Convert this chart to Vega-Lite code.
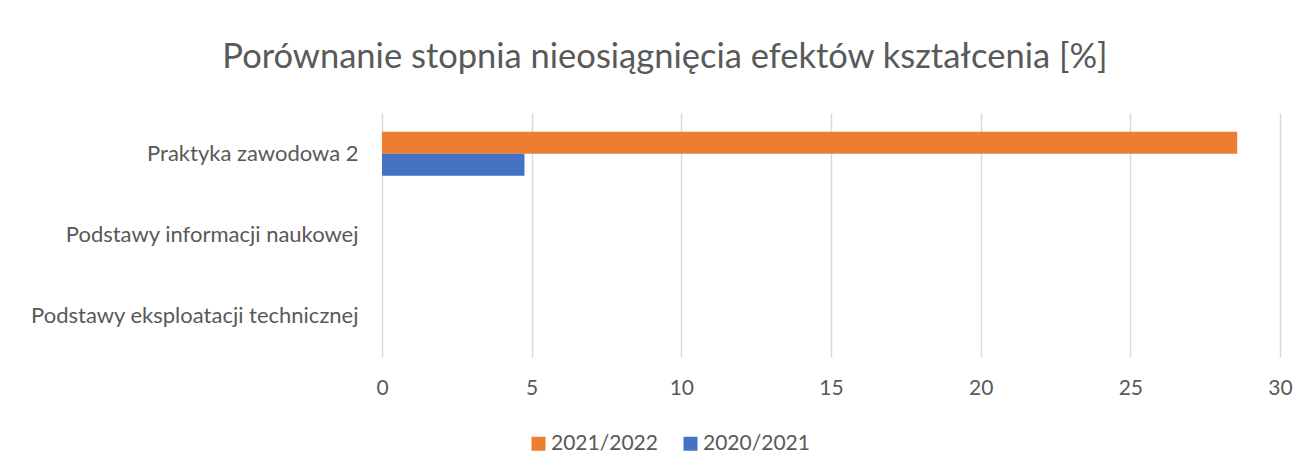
{
  "$schema": "https://vega.github.io/schema/vega-lite/v6.json",
  "width": 898,
  "height": 244,
  "autosize": "none",
  "padding": {"left": 382, "top": 113, "right": 31, "bottom": 116},
  "background": "white",
  "title": {
    "text": "Porównanie stopnia nieosiągnięcia efektów kształcenia [%]",
    "font": "Lato",
    "fontSize": 34.5,
    "fontWeight": "normal",
    "color": "#595959",
    "anchor": "middle",
    "dx": -166,
    "baseline": "alphabetic",
    "offset": 11
  },
  "data": {
    "values": [
      {"przedmiot": "Praktyka zawodowa 2", "rok": "2021/2022", "wartosc": 28.57},
      {"przedmiot": "Praktyka zawodowa 2", "rok": "2020/2021", "wartosc": 4.76},
      {"przedmiot": "Podstawy informacji naukowej", "rok": "2021/2022", "wartosc": 0},
      {"przedmiot": "Podstawy informacji naukowej", "rok": "2020/2021", "wartosc": 0},
      {"przedmiot": "Podstawy eksploatacji technicznej", "rok": "2021/2022", "wartosc": 0},
      {"przedmiot": "Podstawy eksploatacji technicznej", "rok": "2020/2021", "wartosc": 0}
    ]
  },
  "mark": {"type": "bar"},
  "encoding": {
    "y": {
      "field": "przedmiot",
      "type": "nominal",
      "sort": ["Praktyka zawodowa 2", "Podstawy informacji naukowej", "Podstawy eksploatacji technicznej"],
      "scale": {"paddingInner": 0.46, "paddingOuter": 0.23},
      "axis": {
        "title": null,
        "ticks": false,
        "domain": false,
        "labelFont": "Lato",
        "labelFontSize": 22,
        "labelColor": "#595959",
        "labelPadding": 24,
        "labelLimit": 400
      }
    },
    "x": {
      "field": "wartosc",
      "type": "quantitative",
      "scale": {"domain": [0, 30], "nice": false},
      "axis": {
        "title": null,
        "values": [0, 5, 10, 15, 20, 25, 30],
        "ticks": false,
        "domain": false,
        "grid": true,
        "gridColor": "#d9d9d9",
        "gridWidth": 1.5,
        "labelFont": "Lato",
        "labelFontSize": 21,
        "labelColor": "#595959",
        "labelPadding": 20,
        "labelFlush": false
      }
    },
    "yOffset": {
      "field": "rok",
      "type": "nominal",
      "sort": ["2021/2022", "2020/2021"]
    },
    "color": {
      "field": "rok",
      "type": "nominal",
      "scale": {"domain": ["2021/2022", "2020/2021"], "range": ["#ED7D31", "#4472C4"]},
      "legend": {
        "title": null,
        "orient": "none",
        "direction": "horizontal",
        "legendX": 146,
        "legendY": 320,
        "symbolType": "square",
        "symbolSize": 196,
        "symbolStrokeWidth": 0,
        "labelFont": "Lato",
        "labelFontSize": 21,
        "labelColor": "#595959",
        "columnPadding": 22,
        "labelOffset": 2
      }
    }
  },
  "config": {"view": {"stroke": null}}
}
